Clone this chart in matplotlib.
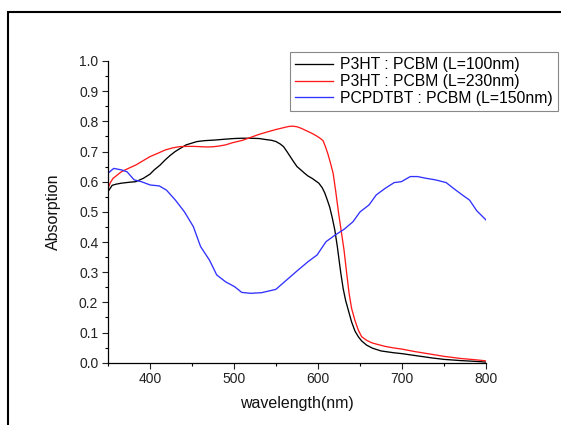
import matplotlib
matplotlib.use("Agg")
import matplotlib.pyplot as plt
from matplotlib.patches import Rectangle
from matplotlib.ticker import MultipleLocator, FormatStrFormatter

plt.rcParams['font.family'] = ['Liberation Sans', 'DejaVu Sans']

labels = ["P3HT : PCBM (L=100nm)", "P3HT : PCBM (L=230nm)", "PCPDTBT : PCBM (L=150nm)"]

wl_black = [350, 355, 360, 366, 375, 383, 392, 400, 405, 412, 418, 424, 430, 437, 443, 450,
            456, 465, 477, 490, 500, 510, 520, 530, 537, 545, 550, 555, 559, 563, 567, 571,
            575, 580, 584, 588, 593, 597, 601, 605, 608, 611, 614, 617, 620, 623, 627, 630,
            633, 636, 640, 644, 648, 652, 658, 665, 675, 690, 700, 720, 735, 750, 770, 790, 800]
abs_black = [0.567, 0.588, 0.592, 0.595, 0.598, 0.600, 0.611, 0.625, 0.639, 0.655, 0.672, 0.687,
             0.700, 0.712, 0.722, 0.728, 0.733, 0.736, 0.738, 0.741, 0.743, 0.744, 0.744, 0.743,
             0.740, 0.737, 0.733, 0.725, 0.716, 0.700, 0.683, 0.666, 0.650, 0.638, 0.628, 0.619,
             0.611, 0.603, 0.595, 0.580, 0.563, 0.540, 0.515, 0.480, 0.440, 0.385, 0.300, 0.245,
             0.205, 0.175, 0.135, 0.105, 0.086, 0.072, 0.058, 0.048, 0.039, 0.033, 0.030, 0.022,
             0.016, 0.011, 0.007, 0.004, 0.002]

wl_red = [350, 353, 356, 361, 366, 375, 383, 392, 400, 410, 418, 427, 435, 444, 452, 460, 469,
          476, 482, 490, 498, 510, 520, 530, 541, 550, 559, 565, 570, 575, 580, 586, 593, 598,
          602, 606, 609, 612, 615, 618, 621, 624.5, 628, 631, 634, 637, 640, 644, 648, 652, 658,
          664, 669, 680, 690, 700, 715, 735, 750, 770, 790, 800]
abs_red = [0.578, 0.598, 0.611, 0.622, 0.633, 0.645, 0.655, 0.670, 0.683, 0.695, 0.705, 0.712,
           0.716, 0.717, 0.717, 0.716, 0.715, 0.716, 0.718, 0.722, 0.729, 0.737, 0.747, 0.757,
           0.766, 0.773, 0.779, 0.783, 0.784, 0.782, 0.777, 0.769, 0.760, 0.752, 0.745, 0.736,
           0.715, 0.690, 0.660, 0.628, 0.570, 0.496, 0.430, 0.373, 0.300, 0.230, 0.180, 0.140,
           0.108, 0.086, 0.074, 0.066, 0.062, 0.054, 0.049, 0.045, 0.037, 0.028, 0.021, 0.014,
           0.009, 0.006]

wl_blue = [350, 356.8, 366.2, 372.6, 381.1, 389.7, 400.3, 411, 419.6, 430.2, 441, 451.6, 460.2,
           470.8, 479.4, 490, 500.7, 509.2, 519.9, 532.7, 549.8, 562.6, 575.4, 588.2, 598.9,
           609.5, 620.3, 631, 641.6, 650.1, 660.8, 669.3, 680, 690.7, 699.2, 709.9, 718.4,
           729.1, 739.8, 752.6, 761.2, 771.8, 780.4, 788.9, 800]
abs_blue = [0.628, 0.644, 0.639, 0.633, 0.606, 0.600, 0.589, 0.586, 0.572, 0.539, 0.500, 0.451,
            0.385, 0.340, 0.291, 0.268, 0.252, 0.233, 0.230, 0.232, 0.243, 0.274, 0.305, 0.335,
            0.357, 0.401, 0.423, 0.442, 0.467, 0.500, 0.523, 0.556, 0.578, 0.597, 0.600, 0.617,
            0.617, 0.611, 0.606, 0.597, 0.578, 0.556, 0.539, 0.504, 0.473]

W, H = 561, 425
fig = plt.figure(figsize=(W / 100, H / 100), dpi=100)
ax = fig.add_axes([108 / W, 1 - 362.7 / H, (486 - 108) / W, (362.7 - 61) / H])

ax.plot(wl_black, abs_black, color='black', lw=0.95, label=labels[0])
ax.plot(wl_red, abs_red, color='#ff1a1a', lw=0.95, label=labels[1])
ax.plot(wl_blue, abs_blue, color='#3030ff', lw=0.95, label=labels[2])

ax.set_xlim(350, 800)
ax.set_ylim(0, 1.0)
ax.xaxis.set_major_locator(MultipleLocator(100))
ax.xaxis.set_minor_locator(MultipleLocator(50))
ax.yaxis.set_major_locator(MultipleLocator(0.1))
ax.yaxis.set_minor_locator(MultipleLocator(0.05))
ax.yaxis.set_major_formatter(FormatStrFormatter('%.1f'))
for s in ['top', 'right']:
    ax.spines[s].set_visible(False)
for s in ['left', 'bottom']:
    ax.spines[s].set_linewidth(0.9)
ax.tick_params(which='major', direction='out', length=4, width=0.8, labelsize=10, colors='#222222', pad=3)
ax.tick_params(which='minor', direction='out', length=2.2, width=0.8)

ax.set_xlabel('wavelength(nm)', fontsize=11.5, labelpad=7, color='#111111')
ax.set_ylabel('Absorption', fontsize=11.5, labelpad=13, color='#111111')

leg = ax.legend(loc='upper right', bbox_to_anchor=(558 / W, 1 - 52 / H), bbox_transform=fig.transFigure,
                fontsize=11.3, frameon=True, fancybox=False, edgecolor='#888888', framealpha=1,
                handlelength=2.45, handletextpad=0.45, borderpad=0.33, labelspacing=0.12, borderaxespad=0)
leg.get_frame().set_linewidth(0.8)

fig.patches.append(Rectangle((8 / W, -0.2), 1.5, 1.2 - 12 / H, transform=fig.transFigure,
                             fill=False, edgecolor='black', lw=1.5))

fig.savefig('out.png', dpi=100)
